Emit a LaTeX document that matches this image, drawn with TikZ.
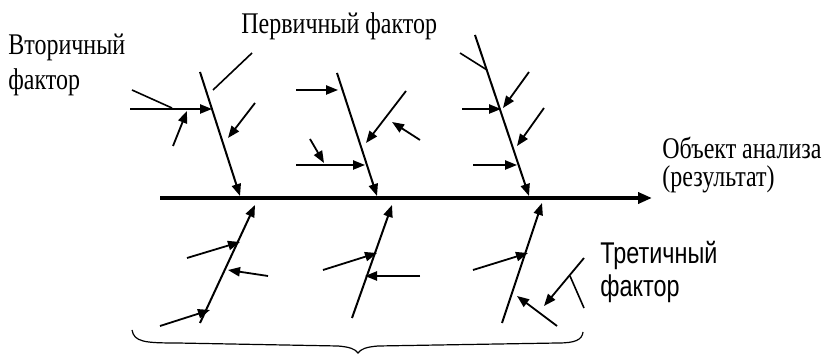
\documentclass[tikz,border=0pt]{standalone}
\usepackage{fontspec}
\setmainfont[FakeStretch=0.8]{Liberation Serif}
\newfontfamily\arialfont[FakeStretch=0.78]{Liberation Sans}
\usetikzlibrary{arrows.meta}
\begin{document}
\begin{tikzpicture}[x=0.5pt, y=-0.5pt,
  spine/.style={line width=1.9pt, -{Triangle[length=7pt,width=5.5pt]}},
  bone/.style={line width=1pt, -{Triangle[length=6pt,width=4.6pt]}},
  factor/.style={line width=0.9pt, -{Triangle[length=6pt,width=4.6pt]}},
  twig/.style={line width=0.8pt},
  label/.style={inner sep=0pt, anchor=base west, align=left}]
  \useasboundingbox (0,0) rectangle (823,356);
  \coordinate (tail) at (160,198);
  \coordinate (head) at (652,198);
  \draw[spine] (tail) -- (head);
  % upper bones
  \draw[bone] (200,72) -- (240,196);
  \draw[bone] (337,73) -- (377,196);
  \draw[bone] (475,35) -- (529,196);
  % lower bones
  \draw[bone] (200,323) -- (255,205);
  \draw[bone] (352,318) -- (392,205);
  \draw[bone] (502,323) -- (542,203);
  \draw[factor] (130,109) -- (212,109);
  \draw[twig] (132,90) -- (172,108);
  \draw[factor] (173,146) -- (187,111);
  \draw[twig] (252,53) -- (213,90);
  \draw[factor] (255,103) -- (228,138);
  \draw[factor] (296,90) -- (338,90);
  \draw[factor] (406,91) -- (366,143);
  \draw[factor] (420,140) -- (392,122);
  \draw[factor] (296,165) -- (365,165);
  \draw[factor] (310,139) -- (324,163);
  \draw[twig] (460,53) -- (487,70);
  \draw[factor] (529,72) -- (503,108);
  \draw[factor] (462,109) -- (501,109);
  \draw[factor] (544,108) -- (517,146);
  \draw[factor] (473,165) -- (517,165);
  \draw[factor] (187,258) -- (240,242);
  \draw[factor] (268,276) -- (228,270);
  \draw[factor] (160,326) -- (210,310);
  \draw[factor] (323,270) -- (377,253);
  \draw[factor] (420,276) -- (365,276);
  \draw[factor] (473,270) -- (528,253);
  \draw[factor] (557,326) -- (517,296);
  \draw[factor] (584,258) -- (544,306);
  \draw[twig] (570,276) -- (584,308);
  % brace
  \draw[line width=0.6pt] (132,330) .. controls (134,342) and (145,343) .. (177,343)
    -- (338,346) .. controls (350,347) and (355,349) .. (358,353)
    .. controls (361,349) and (366,347) .. (378,346)
    -- (558,343) .. controls (575,343) and (582,340) .. (583,332);
  \node[label, font={\fontsize{15pt}{17.5pt}\selectfont}] (sec) at (8,90) {Вторичный\\фактор};
  \node[label, font={\fontsize{15pt}{17.5pt}\selectfont}] (prim) at (241,34) {Первичный фактор};
  \node[label, font={\fontsize{15pt}{14pt}\selectfont}] (obj) at (662,187) {Объект анализа\\(результат)};
  \node[label, font={\arialfont\fontsize{15pt}{16.5pt}\selectfont}] (ter) at (600,297) {Третичный\\фактор};
\end{tikzpicture}
\end{document}
